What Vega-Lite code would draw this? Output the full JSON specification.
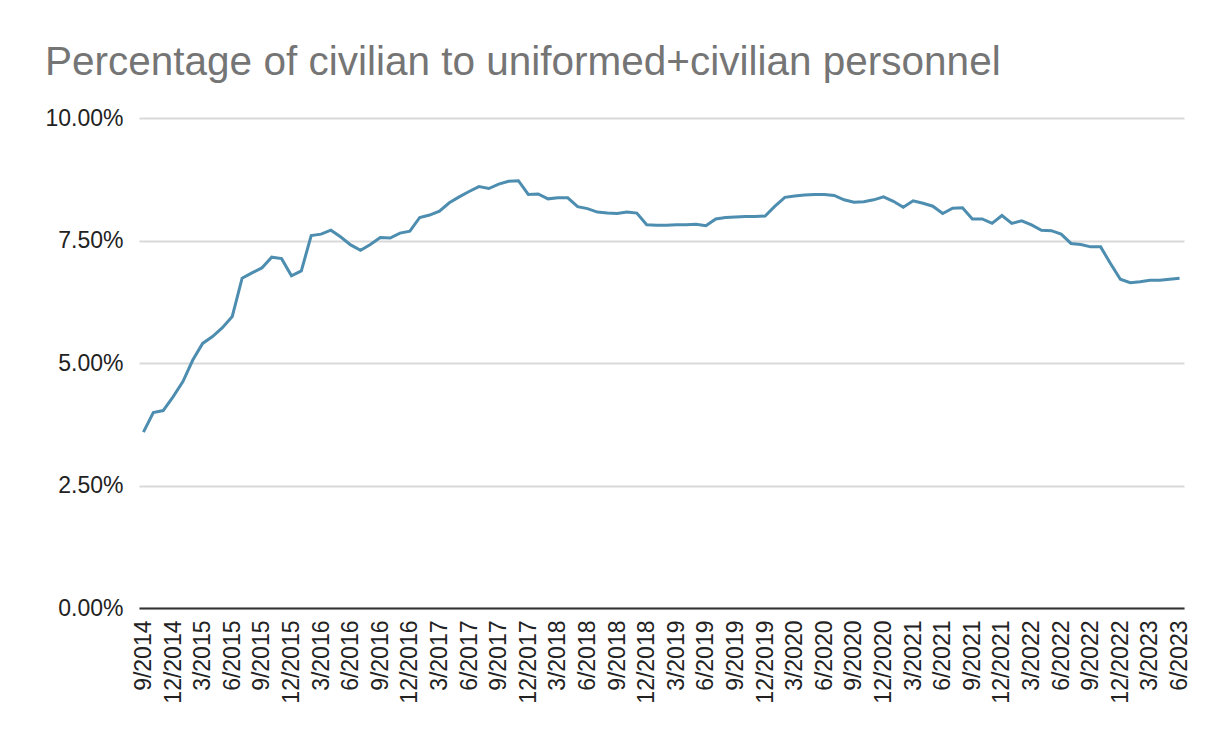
{
  "$schema": "https://vega.github.io/schema/vega-lite/v6.json",
  "width": 1045,
  "height": 490,
  "autosize": {"type": "none"},
  "padding": {"left": 139, "top": 118, "right": 39, "bottom": 140},
  "background": "white",
  "title": {
    "text": "Percentage of civilian to uniformed+civilian personnel",
    "anchor": "start",
    "frame": "group",
    "dx": -94,
    "dy": 8,
    "fontSize": 40.5,
    "font": "Liberation Sans",
    "fontWeight": "normal",
    "color": "#757575",
    "baseline": "alphabetic",
    "offset": 0
  },
  "config": {
    "view": {"stroke": null},
    "font": "Liberation Sans"
  },
  "data": {
    "values": [
      {"month": "9/2014", "pct": 3.59},
      {"month": "10/2014", "pct": 3.99},
      {"month": "11/2014", "pct": 4.03},
      {"month": "12/2014", "pct": 4.31},
      {"month": "1/2015", "pct": 4.62},
      {"month": "2/2015", "pct": 5.06},
      {"month": "3/2015", "pct": 5.40},
      {"month": "4/2015", "pct": 5.54},
      {"month": "5/2015", "pct": 5.72},
      {"month": "6/2015", "pct": 5.95},
      {"month": "7/2015", "pct": 6.73},
      {"month": "8/2015", "pct": 6.84},
      {"month": "9/2015", "pct": 6.94},
      {"month": "10/2015", "pct": 7.16},
      {"month": "11/2015", "pct": 7.13},
      {"month": "12/2015", "pct": 6.78},
      {"month": "1/2016", "pct": 6.88},
      {"month": "2/2016", "pct": 7.60},
      {"month": "3/2016", "pct": 7.63},
      {"month": "4/2016", "pct": 7.71},
      {"month": "5/2016", "pct": 7.57},
      {"month": "6/2016", "pct": 7.41},
      {"month": "7/2016", "pct": 7.30},
      {"month": "8/2016", "pct": 7.42},
      {"month": "9/2016", "pct": 7.56},
      {"month": "10/2016", "pct": 7.55},
      {"month": "11/2016", "pct": 7.65},
      {"month": "12/2016", "pct": 7.69},
      {"month": "1/2017", "pct": 7.97},
      {"month": "2/2017", "pct": 8.02},
      {"month": "3/2017", "pct": 8.10},
      {"month": "4/2017", "pct": 8.27},
      {"month": "5/2017", "pct": 8.39},
      {"month": "6/2017", "pct": 8.50},
      {"month": "7/2017", "pct": 8.60},
      {"month": "8/2017", "pct": 8.56},
      {"month": "9/2017", "pct": 8.65},
      {"month": "10/2017", "pct": 8.71},
      {"month": "11/2017", "pct": 8.72},
      {"month": "12/2017", "pct": 8.44},
      {"month": "1/2018", "pct": 8.45},
      {"month": "2/2018", "pct": 8.35},
      {"month": "3/2018", "pct": 8.37},
      {"month": "4/2018", "pct": 8.37},
      {"month": "5/2018", "pct": 8.19},
      {"month": "6/2018", "pct": 8.15},
      {"month": "7/2018", "pct": 8.08},
      {"month": "8/2018", "pct": 8.06},
      {"month": "9/2018", "pct": 8.05},
      {"month": "10/2018", "pct": 8.08},
      {"month": "11/2018", "pct": 8.06},
      {"month": "12/2018", "pct": 7.82},
      {"month": "1/2019", "pct": 7.81},
      {"month": "2/2019", "pct": 7.81},
      {"month": "3/2019", "pct": 7.82},
      {"month": "4/2019", "pct": 7.82},
      {"month": "5/2019", "pct": 7.83},
      {"month": "6/2019", "pct": 7.80},
      {"month": "7/2019", "pct": 7.94},
      {"month": "8/2019", "pct": 7.97},
      {"month": "9/2019", "pct": 7.98},
      {"month": "10/2019", "pct": 7.99},
      {"month": "11/2019", "pct": 7.99},
      {"month": "12/2019", "pct": 8.00},
      {"month": "1/2020", "pct": 8.20},
      {"month": "2/2020", "pct": 8.38},
      {"month": "3/2020", "pct": 8.41},
      {"month": "4/2020", "pct": 8.43},
      {"month": "5/2020", "pct": 8.44},
      {"month": "6/2020", "pct": 8.44},
      {"month": "7/2020", "pct": 8.42},
      {"month": "8/2020", "pct": 8.33},
      {"month": "9/2020", "pct": 8.28},
      {"month": "10/2020", "pct": 8.29},
      {"month": "11/2020", "pct": 8.33},
      {"month": "12/2020", "pct": 8.39},
      {"month": "1/2021", "pct": 8.30},
      {"month": "2/2021", "pct": 8.18},
      {"month": "3/2021", "pct": 8.31},
      {"month": "4/2021", "pct": 8.26},
      {"month": "5/2021", "pct": 8.20},
      {"month": "6/2021", "pct": 8.05},
      {"month": "7/2021", "pct": 8.16},
      {"month": "8/2021", "pct": 8.17},
      {"month": "9/2021", "pct": 7.94},
      {"month": "10/2021", "pct": 7.94},
      {"month": "11/2021", "pct": 7.85},
      {"month": "12/2021", "pct": 8.01},
      {"month": "1/2022", "pct": 7.85},
      {"month": "2/2022", "pct": 7.90},
      {"month": "3/2022", "pct": 7.82},
      {"month": "4/2022", "pct": 7.71},
      {"month": "5/2022", "pct": 7.70},
      {"month": "6/2022", "pct": 7.63},
      {"month": "7/2022", "pct": 7.44},
      {"month": "8/2022", "pct": 7.42},
      {"month": "9/2022", "pct": 7.37},
      {"month": "10/2022", "pct": 7.37},
      {"month": "11/2022", "pct": 7.03},
      {"month": "12/2022", "pct": 6.71},
      {"month": "1/2023", "pct": 6.64},
      {"month": "2/2023", "pct": 6.66},
      {"month": "3/2023", "pct": 6.69},
      {"month": "4/2023", "pct": 6.69},
      {"month": "5/2023", "pct": 6.71},
      {"month": "6/2023", "pct": 6.73}
    ]
  },
  "mark": {"type": "line", "color": "#4d8db0", "strokeWidth": 3},
  "encoding": {
    "x": {
      "field": "month",
      "type": "ordinal",
      "sort": null,
      "scale": {"type": "point", "padding": 0.45},
      "axis": {
        "title": null,
        "values": ["9/2014","12/2014","3/2015","6/2015","9/2015","12/2015","3/2016","6/2016","9/2016","12/2016","3/2017","6/2017","9/2017","12/2017","3/2018","6/2018","9/2018","12/2018","3/2019","6/2019","9/2019","12/2019","3/2020","6/2020","9/2020","12/2020","3/2021","6/2021","9/2021","12/2021","3/2022","6/2022","9/2022","12/2022","3/2023","6/2023"],
        "labelAngle": -90,
        "labelFontSize": 23,
        "labelColor": "#222222",
        "labelFont": "Liberation Sans",
        "labelPadding": 12,
        "ticks": false,
        "grid": false,
        "domainColor": "#333333",
        "domainWidth": 2,
        "zindex": 1
      }
    },
    "y": {
      "field": "pct",
      "type": "quantitative",
      "scale": {"domain": [0, 10]},
      "axis": {
        "title": null,
        "values": [0, 2.5, 5, 7.5, 10],
        "labelExpr": "format(datum.value, '.2f') + '%'",
        "labelFontSize": 23,
        "labelColor": "#222222",
        "labelFont": "Liberation Sans",
        "labelPadding": 16,
        "ticks": false,
        "domain": false,
        "gridColor": "#d9d9d9",
        "gridWidth": 2
      }
    }
  }
}
